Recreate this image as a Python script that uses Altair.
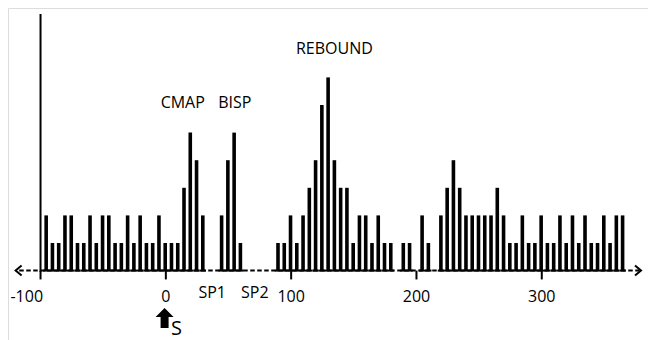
import altair as alt
import pandas as pd

# ---- data (5-unit bins) ----
counts = [2, 1, 1, 2, 2, 1, 1, 2, 1, 2, 2, 1, 1, 2, 1, 2, 1, 1, 2, 1, 1, 1, 3, 5, 4, 2,
          0, 0,
          2, 4, 5, 1,
          0, 0, 0, 0, 0,
          1, 1, 2, 1, 2, 3, 4, 6, 7, 4, 3, 3, 1, 2, 2, 1, 2, 1, 1,
          0, 1, 1, 0, 2, 1, 0,
          2, 3, 4, 3, 2, 2, 2, 2, 2, 3, 2, 1, 1, 2, 1, 1, 2, 1, 1, 2, 1, 2, 1, 2, 1, 1, 2, 1, 2, 2]
bin_width = 5
first_center = -95.5
centers = [first_center + bin_width * i for i in range(len(counts))]

tick_values = [-100, 0, 100, 200, 300]
tick_labels = ["-100", "0", "100", "200", "300"]
tick_label_x = [-111, 0, 100, 200, 300]

peak_labels = ["CMAP", "BISP", "REBOUND"]
peak_x = [13.5, 55, 134.5]
peak_y = [6.07, 6.07, 8.03]

gap_labels = ["SP1", "SP2"]
gap_x = [37, 71]

stim_x = -1
stim_label = "S"

# ---- layout ----
W, H = 640, 332
XD = [-121.97, 380.78]
YD = [-2.5145, 9.5145]
FONT = "Open Sans"

xs = alt.Scale(domain=XD, nice=False, zero=False)
ys = alt.Scale(domain=YD, nice=False, zero=False)

bars_df = pd.DataFrame({"u": centers, "n": counts})
bars_df = bars_df[bars_df["n"] > 0].copy()
bars_df["lo"] = bars_df["u"] - bin_width / 2
bars_df["hi"] = bars_df["u"] + bin_width / 2
bars_df["z"] = 0

bars = alt.Chart(bars_df).mark_bar(size=3.6, color="black").encode(
    x=alt.X("u:Q", scale=xs, axis=None),
    y=alt.Y("n:Q", scale=ys, axis=None),
    y2=alt.Y2("z:Q"),
)

base_seg = alt.Chart(bars_df).mark_rule(color="black", strokeWidth=2).encode(
    x=alt.X("lo:Q", scale=xs, axis=None),
    x2="hi:Q",
    y=alt.Y("z:Q", scale=ys, axis=None),
)

axis_df = pd.DataFrame({"a": [-117.0], "b": [378.0], "y": [0]})
xaxis = alt.Chart(axis_df).mark_rule(color="black", strokeWidth=2, strokeDash=[4.5, 2.5]).encode(
    x=alt.X("a:Q", scale=xs, axis=None), x2="b:Q", y=alt.Y("y:Q", scale=ys, axis=None)
)

yaxis_df = pd.DataFrame({"x": [-100], "y0": [-0.05], "y1": [9.3]})
yaxis = alt.Chart(yaxis_df).mark_rule(color="black", strokeWidth=2).encode(
    x=alt.X("x:Q", scale=xs, axis=None), y=alt.Y("y0:Q", scale=ys, axis=None), y2="y1:Q"
)

ticks_df = pd.DataFrame({"x": tick_values, "y0": [0] * 5, "y1": [-0.32] * 5})
ticks = alt.Chart(ticks_df).mark_rule(color="black", strokeWidth=2).encode(
    x=alt.X("x:Q", scale=xs, axis=None), y=alt.Y("y0:Q", scale=ys, axis=None), y2="y1:Q"
)

tl_df = pd.DataFrame({"x": tick_label_x, "t": tick_labels, "y": [-0.96] * 5})
tick_text = alt.Chart(tl_df).mark_text(font=FONT, fontSize=16, color="black").encode(
    x=alt.X("x:Q", scale=xs, axis=None), y=alt.Y("y:Q", scale=ys, axis=None), text="t:N"
)

pk_df = pd.DataFrame({"x": peak_x, "y": peak_y, "t": peak_labels})
peak_text = alt.Chart(pk_df).mark_text(font=FONT, fontSize=16, color="black").encode(
    x=alt.X("x:Q", scale=xs, axis=None), y=alt.Y("y:Q", scale=ys, axis=None), text="t:N"
)

gp_df = pd.DataFrame({"x": gap_x, "y": [-0.81] * 2, "t": gap_labels})
gap_text = alt.Chart(gp_df).mark_text(font=FONT, fontSize=16, color="black").encode(
    x=alt.X("x:Q", scale=xs, axis=None), y=alt.Y("y:Q", scale=ys, axis=None), text="t:N"
)

left_df = pd.DataFrame({"x": [-117.5], "y": [0]})
left_arrow = alt.Chart(left_df).mark_point(
    shape="M0.6,-1L-0.6,0L0.6,1", filled=False, color="black", strokeWidth=2, size=100, opacity=1
).encode(x=alt.X("x:Q", scale=xs, axis=None), y=alt.Y("y:Q", scale=ys, axis=None))

right_df = pd.DataFrame({"x": [376.8], "y": [0]})
right_arrow = alt.Chart(right_df).mark_point(
    shape="M-0.6,-1L0.6,0L-0.6,1", filled=False, color="black", strokeWidth=2, size=100, opacity=1
).encode(x=alt.X("x:Q", scale=xs, axis=None), y=alt.Y("y:Q", scale=ys, axis=None))

stim_df = pd.DataFrame({"x": [stim_x], "y": [-1.72]})
stim_arrow = alt.Chart(stim_df).mark_point(
    shape="M0,-1L0.9,-0.1L0.4,-0.1L0.4,1L-0.4,1L-0.4,-0.1L-0.9,-0.1Z",
    filled=True, color="black", size=400, opacity=1, strokeWidth=0
).encode(x=alt.X("x:Q", scale=xs, axis=None), y=alt.Y("y:Q", scale=ys, axis=None))

s_df = pd.DataFrame({"x": [8.4], "y": [-2.12], "t": [stim_label]})
s_text = alt.Chart(s_df).mark_text(font=FONT, fontSize=20, color="black").encode(
    x=alt.X("x:Q", scale=xs, axis=None), y=alt.Y("y:Q", scale=ys, axis=None), text="t:N"
)

chart = alt.layer(
    xaxis, base_seg, bars, yaxis, ticks, tick_text, peak_text, gap_text,
    left_arrow, right_arrow, stim_arrow, s_text
).properties(
    width=W, height=H,
    autosize=alt.AutoSizeParams(type="none"),
    padding={"left": 0, "right": 0, "top": 0, "bottom": 0},
).configure_view(stroke=None).configure(background="white")

chart.save("out.html", embed_options={"renderer": "svg", "actions": False})
